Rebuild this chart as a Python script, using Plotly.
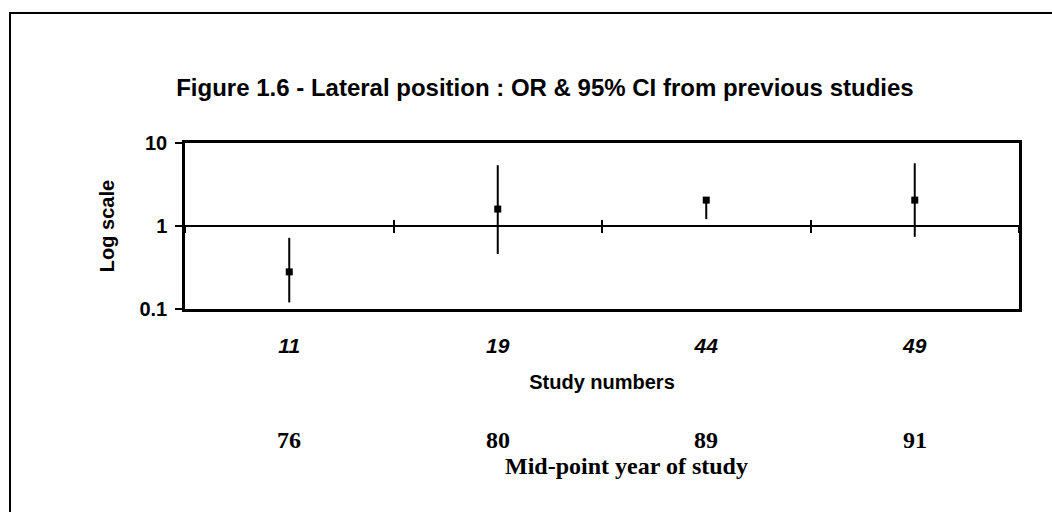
import plotly.graph_objects as go

# ---- data ----
studies = ["11", "19", "44", "49"]
years = ["76", "80", "89", "91"]
odds_ratio = [0.28, 1.6, 2.05, 2.05]
ci_low = [0.12, 0.46, 1.21, 0.74]
ci_high = [0.72, 5.4, 2.05, 5.7]
y_ticks = [0.1, 1, 10]
y_ticktext = ["0.1", "1", "10"]

title_text = "Figure 1.6 - Lateral position : OR &amp; 95% CI from previous studies"

SANS = "Liberation Sans, Arial, sans-serif"
SERIF = "Liberation Serif, Times New Roman, serif"

err_plus = [h - v for h, v in zip(ci_high, odds_ratio)]
err_minus = [v - l for v, l in zip(odds_ratio, ci_low)]

fig = go.Figure()

fig.add_trace(go.Scatter(
    x=studies, y=odds_ratio, mode="markers",
    marker=dict(symbol="square", size=7, color="black"),
    error_y=dict(type="data", symmetric=False, array=err_plus, arrayminus=err_minus,
                 color="black", thickness=2, width=0),
    showlegend=False, hoverinfo="skip",
))

# invisible traces so the reference-line axes (crossing at OR = 1) are drawn
for ax in ("x2", "x3"):
    fig.add_trace(go.Scatter(x=studies, y=[1] * len(studies), xaxis=ax, yaxis="y",
                             mode="markers", marker=dict(opacity=0),
                             showlegend=False, hoverinfo="skip"))

cat_range = [-0.5, len(studies) - 0.5]

fig.update_layout(
    width=1052, height=512,
    margin=dict(l=185, r=33, t=143, b=203),
    paper_bgcolor="white", plot_bgcolor="white",
    title=dict(text="<b>" + title_text + "</b>", x=0.518, xanchor="center",
               y=1 - 88 / 512, yanchor="middle",
               font=dict(family=SANS, size=24, color="black")),
    xaxis=dict(
        type="category", categoryorder="array", categoryarray=studies, range=cat_range,
        tickmode="array", tickvals=studies, ticktext=["<b><i>" + s + "</i></b>" for s in studies],
        tickfont=dict(family=SANS, size=21, color="black"),
        ticks="", ticklabelstandoff=16,
        showline=True, linecolor="black", linewidth=2.5, mirror=True,
        showgrid=False, zeroline=False,
        title=dict(text="<b>Study numbers</b>", font=dict(family=SANS, size=20, color="black"),
                   standoff=20),
    ),
    xaxis2=dict(
        type="category", categoryorder="array", categoryarray=studies, range=cat_range,
        overlaying="x", anchor="free", position=0.5, side="bottom",
        tickson="boundaries", ticks="outside", ticklen=6, tickwidth=2, tickcolor="black",
        showticklabels=False, showline=True, linecolor="black", linewidth=2,
        showgrid=False, zeroline=False,
    ),
    xaxis3=dict(
        type="category", categoryorder="array", categoryarray=studies, range=cat_range,
        overlaying="x", anchor="free", position=0.5, side="bottom",
        tickson="boundaries", ticks="inside", ticklen=6, tickwidth=2, tickcolor="black",
        showticklabels=False, showline=False, showgrid=False, zeroline=False,
    ),
    yaxis=dict(
        type="log", range=[-1, 1], tickmode="array", tickvals=y_ticks,
        ticktext=["<b>" + t + "</b>" for t in y_ticktext],
        tickfont=dict(family=SANS, size=20, color="black"),
        ticks="outside", ticklen=7, tickwidth=1.5, tickcolor="black",
        ticklabelstandoff=4,
        showline=True, linecolor="black", linewidth=2.5, mirror=True,
        showgrid=False, zeroline=False,
        title=dict(text="<b>Log scale</b>", font=dict(family=SANS, size=20, color="black"),
                   standoff=20),
    ),
)

# study mid-point years under each study number (category index positions)
for i, yr in enumerate(years):
    fig.add_annotation(x=i, xref="x", y=(309 - 440) / 166, yref="paper",
                       text="<b>" + yr + "</b>", showarrow=False,
                       font=dict(family=SERIF, size=24, color="black"),
                       xanchor="center", yanchor="middle")

fig.add_annotation(x=(626 - 185) / 834, xref="paper", y=(309 - 466) / 166, yref="paper",
                   text="<b>Mid-point year of study</b>", showarrow=False,
                   font=dict(family=SERIF, size=24, color="black"),
                   xanchor="center", yanchor="middle")

# outer frame of the figure
fig.add_shape(type="rect", xref="paper", yref="paper",
              x0=(10 - 185) / 834, x1=(1060 - 185) / 834,
              y0=(309 - 530) / 166, y1=(309 - 13) / 166,
              line=dict(color="black", width=2), fillcolor="rgba(0,0,0,0)", layer="below")

fig.write_html("out.html")
